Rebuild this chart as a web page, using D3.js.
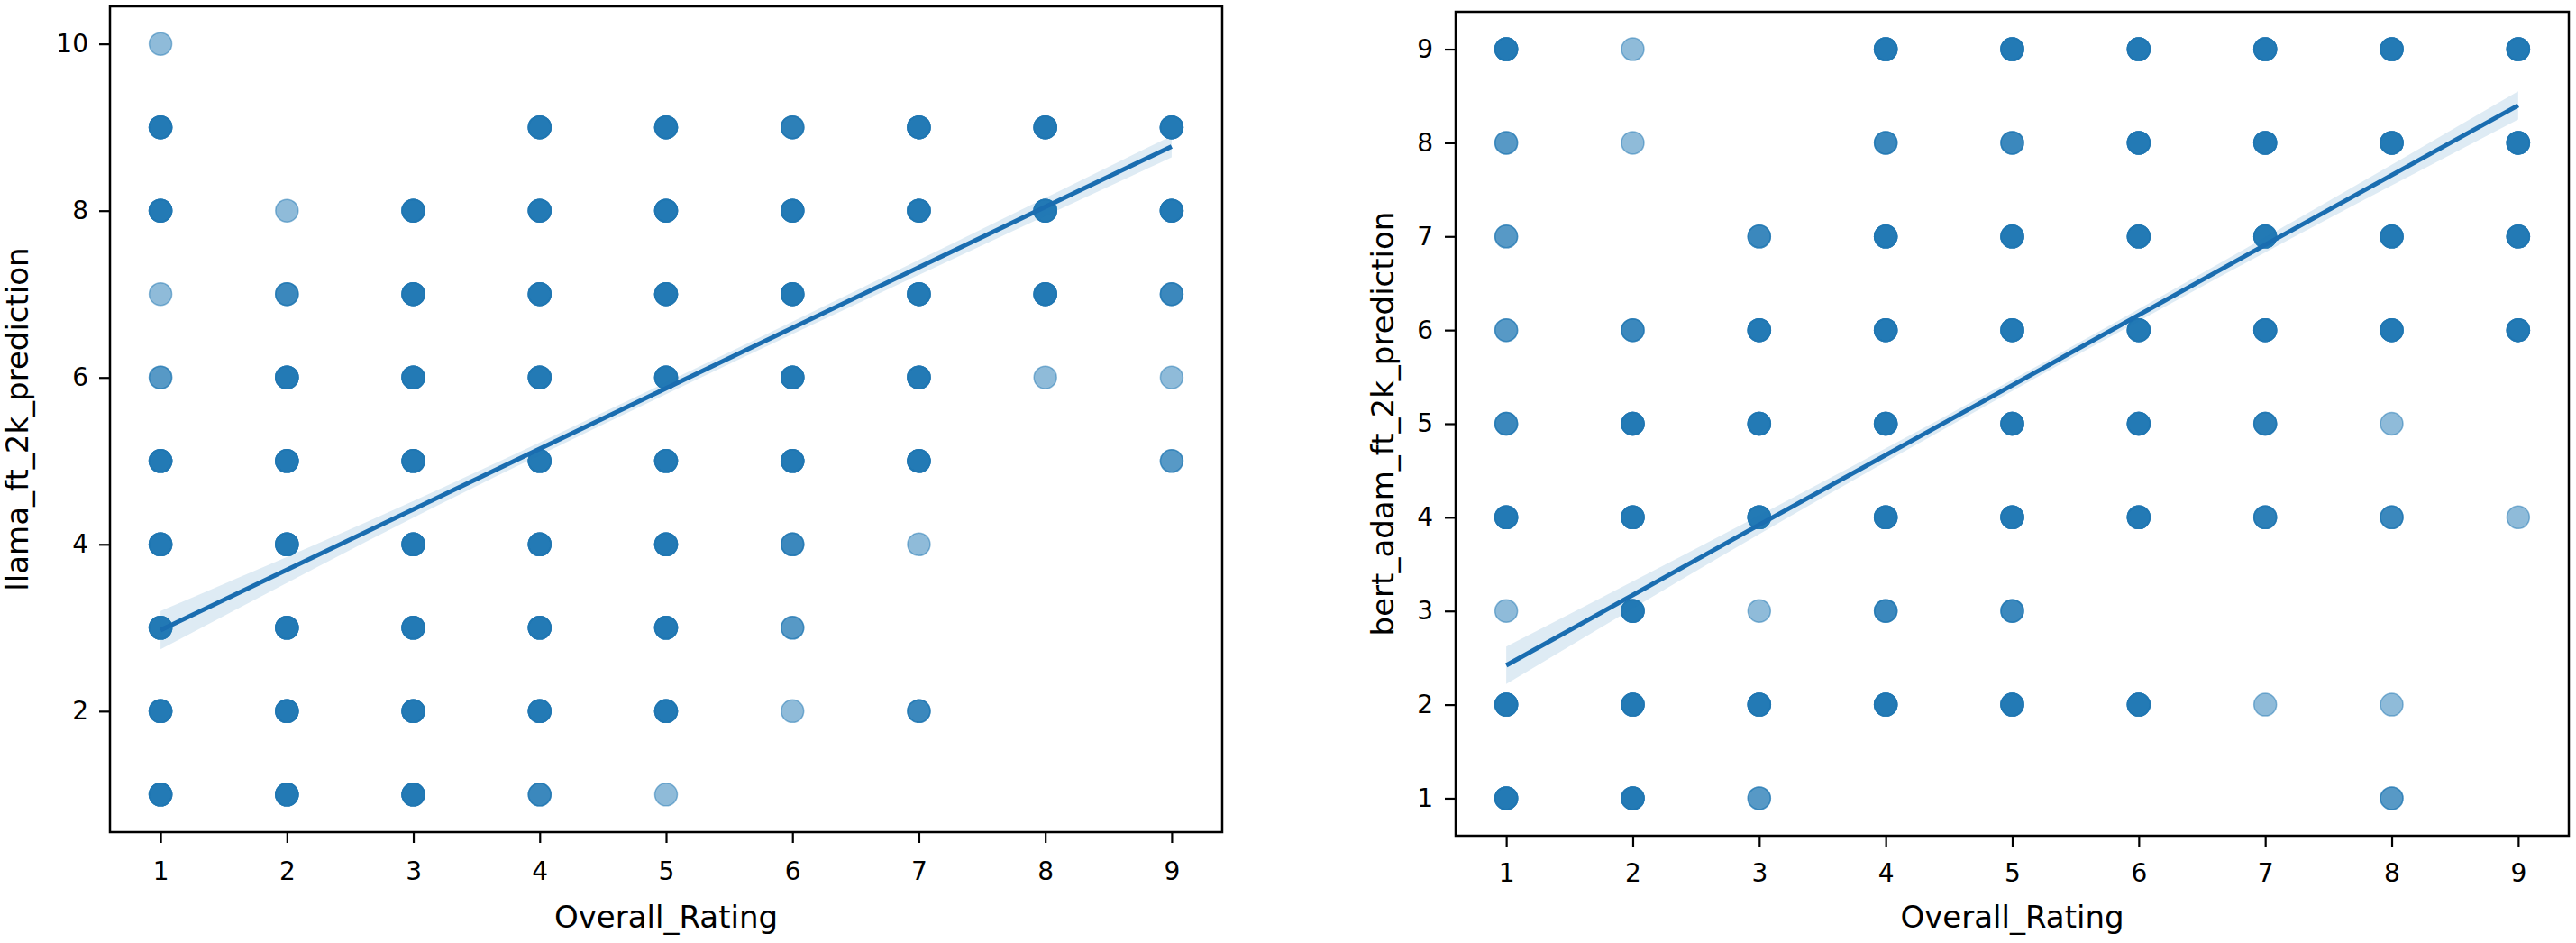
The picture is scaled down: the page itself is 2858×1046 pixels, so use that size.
<!DOCTYPE html>
<html>
<head>
<meta charset="utf-8">
<script src="https://cdn.jsdelivr.net/npm/d3@7"></script>
<style>
  body { margin: 0; background: #fff; }
  text { font-family: 'DejaVu Sans', sans-serif; fill: #000; }
</style>
</head>
<body>
<svg id="chart" width="2858" height="1046"></svg>
<script>
// x = Overall_Rating, y = prediction, n = how many points overlap (read from shade)
var ratingTicks = [1, 2, 3, 4, 5, 6, 7, 8, 9];
var llamaTicks = [2, 4, 6, 8, 10];
var bertTicks = [1, 2, 3, 4, 5, 6, 7, 8, 9];

var llamaPoints = [
  [1,10,1],[1,9,6],[1,8,6],[1,7,1],[1,6,2],[1,5,6],[1,4,6],[1,3,6],[1,2,6],[1,1,6],
  [2,8,1],[2,7,3],[2,6,6],[2,5,6],[2,4,6],[2,3,6],[2,2,6],[2,1,6],
  [3,8,6],[3,7,6],[3,6,6],[3,5,6],[3,4,6],[3,3,6],[3,2,6],[3,1,6],
  [4,9,6],[4,8,6],[4,7,6],[4,6,6],[4,5,6],[4,4,6],[4,3,6],[4,2,6],[4,1,3],
  [5,9,6],[5,8,6],[5,7,6],[5,6,6],[5,5,6],[5,4,6],[5,3,6],[5,2,6],[5,1,1],
  [6,9,4],[6,8,6],[6,7,6],[6,6,6],[6,5,6],[6,4,3],[6,3,2],[6,2,1],
  [7,9,6],[7,8,6],[7,7,6],[7,6,6],[7,5,6],[7,4,1],[7,2,3],
  [8,9,6],[8,8,6],[8,7,6],[8,6,1],
  [9,9,6],[9,8,6],[9,7,3],[9,6,1],[9,5,2]
];
var bertPoints = [
  [1,9,6],[1,8,2],[1,7,2],[1,6,2],[1,5,3],[1,4,6],[1,3,1],[1,2,6],[1,1,6],
  [2,9,1],[2,8,1],[2,6,3],[2,5,6],[2,4,6],[2,3,6],[2,2,6],[2,1,6],
  [3,7,3],[3,6,6],[3,5,6],[3,4,6],[3,3,1],[3,2,6],[3,1,2],
  [4,9,6],[4,8,3],[4,7,6],[4,6,6],[4,5,6],[4,4,6],[4,3,3],[4,2,6],
  [5,9,6],[5,8,3],[5,7,6],[5,6,6],[5,5,6],[5,4,6],[5,3,3],[5,2,6],
  [6,9,6],[6,8,6],[6,7,6],[6,6,6],[6,5,6],[6,4,6],[6,2,6],
  [7,9,6],[7,8,6],[7,7,6],[7,6,6],[7,5,4],[7,4,4],[7,2,1],
  [8,9,6],[8,8,6],[8,7,6],[8,6,6],[8,5,1],[8,4,3],[8,2,1],[8,1,2],
  [9,9,6],[9,8,6],[9,7,6],[9,6,6],[9,4,1]
];

// regression line and its confidence band
var ciX = [1, 3, 5, 7, 9];
var llamaFit = [2.97, 4.42, 5.87, 7.32, 8.77];
var llamaLow = [2.74, 4.32, 5.80, 7.23, 8.64];
var llamaHigh = [3.20, 4.52, 5.94, 7.41, 8.90];
var bertFit = [2.42, 3.92, 5.41, 6.91, 8.40];
var bertLow = [2.22, 3.82, 5.35, 6.83, 8.25];
var bertHigh = [2.62, 4.02, 5.47, 6.99, 8.55];

var C = '#1f77b4';
var svg = d3.select('#chart');

function panel(opt) {
  var x = d3.scaleLinear().domain([0.6, 9.4]).range([opt.left, opt.right]);
  var y = d3.scaleLinear().domain(opt.ydom).range([opt.bottom, opt.top]);
  var g = svg.append('g');

  // points: one circle per observation, alpha 0.5 like the original scatter
  var pts = [];
  opt.points.forEach(function(p) {
    for (var i = 0; i < p[2]; ++i) pts.push(p);
  });
  g.selectAll('circle.pt')
    .data(pts)
    .enter().append('circle')
    .attr('class', 'pt')
    .attr('cx', function(d) { return x(d[0]); })
    .attr('cy', function(d) { return y(d[1]); })
    .attr('r', 12.5)
    .style('fill', C)
    .style('fill-opacity', 0.5)
    .style('stroke', C)
    .style('stroke-opacity', 0.5)
    .style('stroke-width', 1.5);

  var band = ciX.map(function(v, i) { return [v, opt.low[i], opt.high[i]]; });
  g.append('path')
    .datum(band)
    .attr('d', d3.area()
      .curve(d3.curveMonotoneX)
      .x(function(d) { return x(d[0]); })
      .y0(function(d) { return y(d[1]); })
      .y1(function(d) { return y(d[2]); }))
    .style('fill', C)
    .style('fill-opacity', 0.15);

  g.append('path')
    .datum(ciX.map(function(v, i) { return [v, opt.fit[i]]; }))
    .attr('d', d3.line()
      .x(function(d) { return x(d[0]); })
      .y(function(d) { return y(d[1]); }))
    .style('fill', 'none')
    .style('stroke', '#1a6db0')
    .style('stroke-width', 5);

  var xa = g.append('g')
    .attr('transform', 'translate(0,' + opt.bottom + ')')
    .call(d3.axisBottom(x).tickValues(ratingTicks).tickSize(12).tickPadding(opt.xpad)
      .tickFormat(d3.format('d')));
  var ya = g.append('g')
    .attr('transform', 'translate(' + opt.left + ',0)')
    .call(d3.axisLeft(y).tickValues(opt.yticks).tickSize(12).tickPadding(opt.ypad)
      .tickFormat(d3.format('d')));
  [xa, ya].forEach(function(a) {
    a.select('.domain').remove();
    a.selectAll('line').style('stroke', '#000').style('stroke-width', 2.2);
    a.selectAll('text').style('font-size', '28px').style('font-family', "'DejaVu Sans'");
  });

  g.append('rect')
    .attr('x', opt.left).attr('y', opt.top)
    .attr('width', opt.right - opt.left).attr('height', opt.bottom - opt.top)
    .style('fill', 'none').style('stroke', '#000').style('stroke-width', 2.5);

  g.append('text')
    .attr('x', (opt.left + opt.right) / 2)
    .attr('y', 1029)
    .attr('text-anchor', 'middle')
    .style('font-size', '34px')
    .text('Overall_Rating');
  g.append('text')
    .attr('transform', 'translate(' + opt.ylabelX + ',' + (opt.top + opt.bottom) / 2 + ') rotate(-90)')
    .attr('text-anchor', 'middle')
    .style('font-size', '34px')
    .text(opt.ylabel);
}

panel({
  left: 122, right: 1356, top: 7, bottom: 923,
  ydom: [0.55, 10.45], yticks: llamaTicks, xpad: 21, ypad: 12,
  points: llamaPoints, fit: llamaFit, low: llamaLow, high: llamaHigh,
  ylabel: 'llama_ft_2k_prediction', ylabelX: 31
});
panel({
  left: 1615, right: 2850, top: 13, bottom: 927,
  ydom: [0.6, 9.4], yticks: bertTicks, xpad: 19, ypad: 13,
  points: bertPoints, fit: bertFit, low: bertLow, high: bertHigh,
  ylabel: 'bert_adam_ft_2k_prediction', ylabelX: 1546
});
</script>
</body>
</html>
